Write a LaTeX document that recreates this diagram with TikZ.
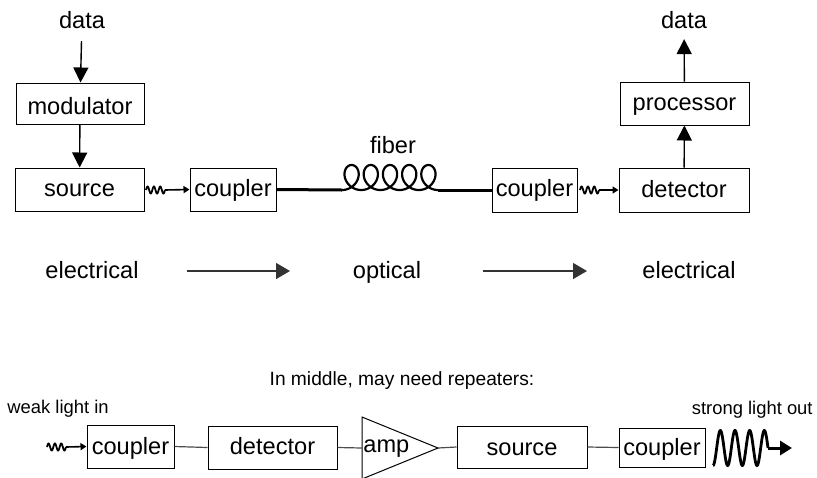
\documentclass[tikz,border=0pt]{standalone}
\usepackage{fontspec}
\setmainfont{Liberation Sans}
\usetikzlibrary{arrows.meta}
\begin{document}
\begin{tikzpicture}[x=0.5pt,y=-0.5pt,
  lbl/.style={font=\fontsize{11.8}{14}\selectfont, inner sep=0},
  small/.style={font=\fontsize{9.2}{11}\selectfont, inner sep=0},
  blk/.style={draw, line width=0.5pt, inner sep=0, text height=7pt, text depth=0pt,
    font=\fontsize{11.8}{14}\selectfont},
  sig/.style={line width=0.7pt, -{Triangle[length=7.5pt,width=7.5pt]}},
  flow/.style={line width=0.7pt, draw=black!80, -{Triangle[length=7pt,width=8pt]}},
  wig/.style={line width=0.9pt},
  wigtip/.style={line width=0.8pt, -{Triangle[length=3pt,width=3.5pt]}},
  fibre/.style={line width=1.5pt},
  link/.style={line width=0.6pt, draw=black!70}
]
\useasboundingbox (0,0) rectangle (817,477);
\clip (0,0) rectangle (817,477);

% ---------- transmitter ----------
\node[lbl] (din) at (82,20) {data};
\node[blk, minimum width=64pt, minimum height=20.5pt, text height=10.5pt] (mod) at (80,103.5) {modulator};
\node[blk, minimum width=64.5pt, minimum height=21.5pt] (src) at (79.5,189.5) {source};
\node[blk, minimum width=43pt, minimum height=21.5pt] (cp1) at (233,189.5) {coupler};
\draw[sig, shorten <=6pt] (din) -- (mod);
\draw[sig] (mod) -- (src);

% light from source into the coupler
\draw[wig] plot[domain=0:1080, samples=60, variable=\t] ({146+\t/1080*19}, {190-3.5*sin(\t)});
\coordinate (w1) at (165,190);
\draw[wigtip] (w1) -- (cp1.west);

% ---------- fibre with coil ----------
\node[lbl] (fib) at (393,145) {fiber};
\coordinate (coilS) at (342,190);
\coordinate (coilE) at (438,190);
\node[blk, minimum width=42.5pt, minimum height=22pt, text height=6pt] (cp2) at (534.5,190) {coupler};
\draw[fibre] (cp1.east) -- (coilS);
\draw[line width=1.1pt] plot[domain=0:1800, samples=400, variable=\t]
  ({342 + \t/180*3.056*pi + 11.5*sin(\t)}, {190 - 12.5*(1-cos(\t))});
\draw[fibre] (coilE) -- (cp2.west);

% ---------- receiver ----------
\node[blk, minimum width=65pt, minimum height=22pt] (det) at (684,190) {detector};
\node[blk, minimum width=64.5pt, minimum height=21.5pt, text height=6.5pt] (proc) at (684.5,103.5) {processor};
\node[lbl] (dout) at (684,20) {data};
\draw[wig] plot[domain=0:1080, samples=60, variable=\t] ({580+\t/1080*19}, {190-3.5*sin(\t)});
\coordinate (w2) at (599,190);
\draw[wigtip] (w2) -- (det.west);
\draw[sig] (det) -- (proc);
\draw[sig, shorten >=5pt] (proc) -- (dout);

% ---------- signal domains ----------
\node[lbl] (el1) at (92,270) {electrical};
\node[lbl] (opt) at (387,272) {optical};
\node[lbl] (el2) at (689,270) {electrical};
\coordinate (a1s) at (187,271);
\coordinate (a1e) at (290,271);
\coordinate (a2s) at (483,271);
\coordinate (a2e) at (587,271);
\draw[flow] (a1s) -- (a1e);
\draw[flow] (a2s) -- (a2e);

% ---------- repeater ----------
\node[font=\fontsize{9.6}{12}\selectfont, inner sep=0] (rep) at (402,381) {In middle, may need repeaters:};
\node[small, anchor=west] (weak) at (7,409) {weak light in};
\node[small, anchor=east] (strong) at (813,410) {strong light out};

\node[blk, minimum width=43.5pt, minimum height=21.5pt, text height=7.5pt] (rc1) at (130.5,446.5) {coupler};
\node[blk, minimum width=64.5pt, minimum height=21.5pt, text height=6.5pt] (rdet) at (272.5,447.5) {detector};
\coordinate (ampL) at (362,448);
\coordinate (ampT) at (438,448);
\draw[line width=0.5pt] (362,417) -- (ampT) -- (362,479) -- cycle;
\node[lbl, anchor=base west] (amp) at (363,452) {amp};
\node[blk, minimum width=65pt, minimum height=21pt, text height=8pt] (rsrc) at (522,447) {source};
\node[blk, minimum width=43pt, minimum height=19.5pt, text height=7.5pt] (rc2) at (662,447.5) {coupler};

\draw[wig] plot[domain=0:1080, samples=60, variable=\t] ({47+\t/1080*19}, {447-3.5*sin(\t)});
\coordinate (w3) at (66,447);
\draw[wigtip] (w3) -- (rc1.west);
\draw[link] (rc1.east) -- (rdet.west);
\draw[link] (rdet.east) -- (ampL);
\draw[link] (ampT) -- (rsrc.west);
\draw[link] (rsrc.east) -- (rc2.west);

% strong output wave
\draw[line width=1.4pt] plot[domain=0:1350, samples=200, variable=\t]
  ({713+\t/1350*55}, {448+17.5*cos(\t)});
\coordinate (w4) at (768,448);
\coordinate (wout) at (792,448);
\draw[line width=1.5pt, -{Triangle[length=6pt,width=7pt]}] (w4) -- (wout);
\end{tikzpicture}
\end{document}
